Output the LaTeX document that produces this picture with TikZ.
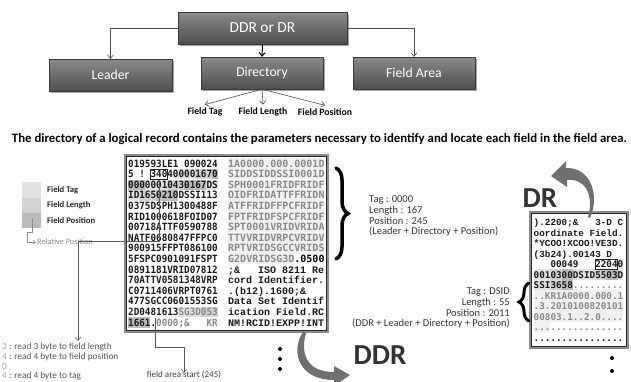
\documentclass[tikz,border=0pt]{standalone}
\usepackage{fontspec}
\setmainfont{Carlito}
\newfontfamily\pixfont[FakeStretch=0.93]{DejaVu Sans Mono}
\newfontfamily\pixwide{DejaVu Sans Mono}
\newfontfamily\courfont{Liberation Mono}
\usetikzlibrary{arrows.meta,shadows,calc,decorations.pathreplacing}

\definecolor{boxtop}{HTML}{8A8A8A}
\definecolor{boxbot}{HTML}{4E4E4E}
\definecolor{boxline}{HTML}{3A3A3A}
\definecolor{hlTag}{HTML}{E2E2E2}
\definecolor{hlLen}{HTML}{D2D2D2}
\definecolor{hlPos}{HTML}{BBBBBB}
\definecolor{fieldtxt}{HTML}{8A8A8A}
\definecolor{fieldbg}{HTML}{F0F0F0}
\definecolor{labeltxt}{HTML}{333333}
\definecolor{notetxt}{HTML}{555555}
\definecolor{curvgray}{HTML}{707070}

% cell highlight helpers: {first col}{end col}{row}{style}
\newcommand\lcell[4]{\fill[#4] ({128+#1*5.6},{158.3+#3*10.6}) rectangle ({128+#2*5.6},{168.7+#3*10.6});}
\newcommand\rcell[4]{\fill[#4] ({228+#1*6.02},{158.3+#3*10.6}) rectangle ({228+#2*6.02},{168.7+#3*10.6});}
\newcommand\dcell[4]{\fill[#4] ({533.5+#1*5.6},{216.8+#3*10.5}) rectangle ({533.5+#2*5.6},{227.2+#3*10.5});}
% text rows of the dump panels
\newcommand\lrow[2]{\node[lrowstyle] (L#1) at (128,{167.1+#1*10.6}) {#2};}
\newcommand\rrow[2]{\node[rrowstyle] (R#1) at (228,{167.1+#1*10.6}) {#2};}
\newcommand\crow[2]{\node[crowstyle] (C#1) at (228,{167.1+#1*10.6}) {#2};}
\newcommand\drow[2]{\node[drowstyle] (D#1) at (533.5,{225.6+#1*10.5}) {#2};}
\newcommand\dcrow[2]{\node[dcrowstyle] (D#1) at (533.5,{225.6+#1*10.5}) {#2};}

\tikzset{
  treebox/.style={rectangle, draw=boxline, top color=boxtop, bottom color=boxbot,
    text=white, minimum height=32pt, inner sep=0pt,
    font=\fontsize{13.7}{13.7}\selectfont,
    drop shadow={shadow xshift=1.5pt, shadow yshift=-1.5pt, opacity=0.35, fill=black}},
  conn/.style={draw=black!70, line width=0.6pt},
  thinconn/.style={draw=black!65, line width=0.5pt},
  openarrow/.style={-{Straight Barb[length=3.5pt,width=6pt]}},
  sublabel/.style={font=\bfseries\fontsize{9.7}{9.7}\selectfont, inner xsep=0pt, inner ysep=3pt},
  legtext/.style={anchor=west, inner sep=0pt, text=black!85, font=\bfseries\fontsize{8.6}{8.6}\selectfont},
  infotext/.style={inner sep=0pt, text=labeltxt, font=\fontsize{10.5}{10.5}\selectfont},
  notetext/.style={anchor=west, inner sep=0pt, text=notetxt, font=\fontsize{9.3}{9.3}\selectfont},
  lrowstyle/.style={anchor=base west, inner sep=0pt, text=black!90, font=\pixfont\bfseries\fontsize{10}{10}\selectfont\frenchspacing},
  rrowstyle/.style={anchor=base west, inner sep=0pt, text=fieldtxt, font=\pixwide\bfseries\fontsize{10}{10}\selectfont\frenchspacing},
  crowstyle/.style={anchor=base west, inner sep=0pt, text=black!90, font=\courfont\bfseries\fontsize{10}{10}\selectfont\frenchspacing},
  drowstyle/.style={anchor=base west, inner sep=0pt, text=black!90, font=\pixwide\bfseries\fontsize{9.3}{9.3}\selectfont\frenchspacing},
  dcrowstyle/.style={anchor=base west, inner sep=0pt, text=black!90, font=\courfont\bfseries\fontsize{9.33}{9.33}\selectfont\frenchspacing},
  bigword/.style={inner sep=0pt, text=black!80, font=\bfseries\fontsize{29}{29}\selectfont},
  dotmark/.style={circle, fill=black, inner sep=0pt, minimum size=4pt},
  panelouter/.style={draw=black!45, line width=1.6pt},
  panelinner/.style={draw=black!85, line width=0.6pt},
}

\begin{document}
\begin{tikzpicture}[x=1pt,y=-1pt]
\useasboundingbox (0,0) rectangle (631,381);
\clip (0,0) rectangle (631,381);

% ---------- record structure tree ----------
\node[treebox, minimum width=169pt, font=\fontsize{15.4}{15.4}\selectfont] (ddr) at (262.5,28) {DDR or DR};
\node[treebox, minimum width=123pt] (leader) at (110.5,75) {Leader};
\node[treebox, minimum width=122pt] (dir) at (262,73) {Directory};
\node[treebox, minimum width=122pt] (farea) at (414,73) {Field Area};

\draw[conn, openarrow] (ddr.west) -| (leader.north);
\draw[conn, openarrow] (ddr.east) -| (farea.north);
\draw[draw=black, line width=1pt, -{Straight Barb[length=3.5pt,width=6pt]}] (ddr.south) -- (dir.north);

\node[sublabel] (ftag) at (205,112) {Field Tag};
\node[sublabel] (flen) at (263,112) {Field Length};
\node[sublabel] (fpos) at (325,112) {Field Position};
\draw[conn, openarrow] (dir.south) -- (ftag.north);
\draw[conn, openarrow] (dir.south) -- (flen.north);
\draw[conn, openarrow] (dir.south) -- (fpos.north);

\node[inner sep=0pt] (caption) at (319.5,139)
  {\resizebox{615pt}{!}{\bfseries\fontsize{11}{11}\selectfont The directory of a logical record contains the parameters necessary to identify and locate each field in the field area.}};

% ---------- legend ----------
\fill[hlTag] (22,182) rectangle (41,198);
\fill[hlLen] (22,198) rectangle (41,213);
\fill[hlPos] (22,213) rectangle (41,228);
\node[legtext] (lgTag) at (47,190) {Field Tag};
\node[legtext] (lgLen) at (47,205.5) {Field Length};
\node[legtext] (lgPos) at (47,221) {Field Position};
\coordinate (rpStart) at (32,218);
\node[anchor=west, inner sep=0pt, text=black!45, font=\fontsize{8.3}{8.3}\selectfont] (relpos) at (37,242) {Relative Position};
\draw[draw=black!45, line width=0.6pt, -{Straight Barb[length=2.5pt,width=4pt]}]
  (rpStart) -- ++(0,14) -- ++(-5,0) |- ([xshift=-1pt]relpos.west);

% ---------- DDR dump ----------
\draw[panelouter] (125,155) rectangle (328,332);
\draw[panelinner] (126.6,156.6) rectangle (326.4,330.4);

% directory entries: tag / length / position
\lcell{8}{12}{1}{hlTag} \lcell{12}{15}{1}{hlLen} \lcell{15}{16}{1}{hlPos}
\lcell{0}{3}{2}{hlPos} \lcell{3}{7}{2}{hlTag} \lcell{7}{10}{2}{hlLen} \lcell{10}{14}{2}{hlPos} \lcell{14}{16}{2}{hlTag}
\lcell{0}{2}{3}{hlTag} \lcell{2}{5}{3}{hlLen} \lcell{5}{9}{3}{hlPos}
\lcell{9}{13}{14}{hlTag} \lcell{13}{16}{14}{hlLen}
\lcell{0}{4}{15}{hlPos}
% first field of the field area
\foreach \r in {0,...,8} { \rcell{0}{16}{\r}{fieldbg} }
\rcell{0}{11}{9}{fieldbg}

\lrow{0}{019593LE1~090024}
\lrow{1}{5~!~340400001670}
\lrow{2}{00000010430167DS}
\lrow{3}{ID1650210DSSI113}
\lrow{4}{0375DSPH1300488F}
\lrow{5}{RID1000618FOID07}
\lrow{6}{00718ATTF0590788}
\lrow{7}{NATF0680847FFPC0}
\lrow{8}{900915FFPT086100}
\lrow{9}{5FSPC0901091FSPT}
\lrow{10}{0891181VRID07812}
\lrow{11}{70ATTV0581348VRP}
\lrow{12}{C0711406VRPT0761}
\lrow{13}{477SGCC0601553SG}
\lrow{14}{2D0481613\textcolor{fieldtxt}{SG3D053}}
\lrow{15}{1661.\textcolor{fieldtxt}{0000;\&~~~KR}}

\rrow{0}{1A0000.000.0001D}
\rrow{1}{SIDDSIDDSSI0001D}
\rrow{2}{SPH0001FRIDFRIDF}
\rrow{3}{OIDFRIDATTFFRIDN}
\rrow{4}{ATFFRIDFFPCFRIDF}
\rrow{5}{FPTFRIDFSPCFRIDF}
\rrow{6}{SPT0001VRIDVRIDA}
\rrow{7}{TTVVRIDVRPCVRIDV}
\rrow{8}{RPTVRIDSGCCVRIDS}
\rrow{9}{G2DVRIDSG3D\textcolor{black}{.0500}}
\crow{10}{;\&~~~ISO~8211~Re}
\crow{11}{cord~Identifier.}
\crow{12}{.(b12).1600;\&}
\crow{13}{Data~Set~Identif}
\crow{14}{ication~Field.RC}
\crow{15}{NM!RCID!EXPP!INT}

% entry map of the leader and its reading
\node[draw=black!85, line width=0.6pt, inner sep=0pt, minimum width=16.8pt, minimum height=10.4pt]
  (emap) at ({128+5.5*5.6},{163.5+10.6}) {};
\coordinate (rules) at (78,341);
\draw[thinconn, openarrow] (emap.south) -- (emap.south |- 0,241) -| (rules);
\node[notetext] (n1) at (2,347.5) {\textcolor{black!35}{3} : read 3 byte to field length};
\node[notetext] (n2) at (2,357) {\textcolor{black!35}{4} : read 4 byte to field position};
\node[notetext] (n3) at (2,366.5) {\textcolor{black!35}{0}};
\node[notetext] (n4) at (2,376) {\textcolor{black!35}{4} : read 4 byte to tag};

% start of the field area
\coordinate (cursor) at ({128+5*5.6-0.6},317.5);
\node[inner sep=0pt, text=black!75, font=\fontsize{9}{9}\selectfont] (fas) at (184,375) {field area start (245)};
\draw[thinconn, openarrow] (cursor) -- ++(0,30) -| ([yshift=-2pt]fas.north);

\node[dotmark] (m1) at (280,349) {};
\node[dotmark] (m2) at (280,359) {};
\node[dotmark] (m3) at (280,369) {};

% ---------- DDR summary ----------
\draw[line width=3.5pt, line cap=round, decorate, decoration={brace, amplitude=12pt, aspect=0.5}] (336,168) -- (336,259);
\node[infotext, anchor=west] (t1) at (369,200) {Tag : 0000};
\node[infotext, anchor=west] (t2) at (369,210.5) {Length : 167};
\node[infotext, anchor=west] (t3) at (369,221) {Position : 245};
\node[infotext, anchor=west] (t4) at (369,231.5) {(Leader + Directory + Position)};

\node[bigword] (ddrword) at (380,355) {DDR};
\fill[curvgray] (303,332) .. controls (290,352) and (299,380) .. (334,380)
  -- (334,386) -- (350,375) -- (334,366) -- (334,372)
  .. controls (307,372) and (300,354) .. (306,333) -- cycle;

% ---------- DR dump ----------
\draw[panelouter] (530,212) rectangle (628,348);
\draw[panelinner] (531.6,213.6) rectangle (626.4,346.4);

\dcell{15}{16}{4}{hlTag}
\dcell{0}{3}{5}{hlTag} \dcell{3}{5}{5}{hlLen} \dcell{5}{7}{5}{hlPos} \dcell{7}{11}{5}{hlTag}
\dcell{11}{13}{5}{hlLen} \dcell{13}{15}{5}{hlPos} \dcell{15}{16}{5}{hlTag}
\dcell{0}{3}{6}{hlTag} \dcell{3}{5}{6}{hlLen} \dcell{5}{7}{6}{hlPos}
\dcell{0}{16}{7}{fieldbg} \dcell{0}{16}{8}{fieldbg} \dcell{0}{16}{9}{fieldbg} \dcell{0}{3}{10}{fieldbg}

\dcrow{0}{).2200;\&~~~3-D~C}
\dcrow{1}{oordinate~Field.}
\dcrow{2}{*YCOO!XCOO!VE3D.}
\dcrow{3}{(3b24).00143~D}
\drow{4}{~~~00049~~~22040}
\drow{5}{0010300DSID5503D}
\drow{6}{SSI3658\textcolor{fieldtxt}{.........}}
\drow{7}{\textcolor{fieldtxt}{..KR1A0000.000.1}}
\drow{8}{\textcolor{fieldtxt}{.3.2010100820101}}
\drow{9}{\textcolor{fieldtxt}{00803.1..2.0....}}
\drow{10}{\textcolor{fieldtxt}{................}}
\drow{11}{................}
\node[draw=black!85, line width=0.6pt, inner sep=0pt, minimum width=22.4pt, minimum height=10.4pt]
  (dmap) at ({533.5+13*5.6},{222+4*10.5}) {};

\node[bigword] (drword) at (540,198) {DR};
\fill[curvgray] (590,218) .. controls (600,196) and (591,167) .. (566,168)
  -- (566,161) -- (551,176) -- (567,187) -- (567,180)
  .. controls (586,178) and (594,196) .. (588,217) -- cycle;

% ---------- DR summary ----------
\draw[line width=3pt, line cap=round, decorate, decoration={brace, amplitude=10pt, aspect=0.5}] (529,321) -- (529,283);
\node[infotext, anchor=east] (s1) at (510,292) {Tag : DSID};
\node[infotext, anchor=east] (s2) at (510,302.5) {Length : 55};
\node[infotext, anchor=east] (s3) at (510,313) {Position : 2011};
\node[infotext, anchor=east] (s4) at (510,323.5) {(DDR + Leader + Directory + Position)};

\node[dotmark] (m4) at (612,358) {};
\node[dotmark] (m5) at (612,371) {};
\end{tikzpicture}
\end{document}
